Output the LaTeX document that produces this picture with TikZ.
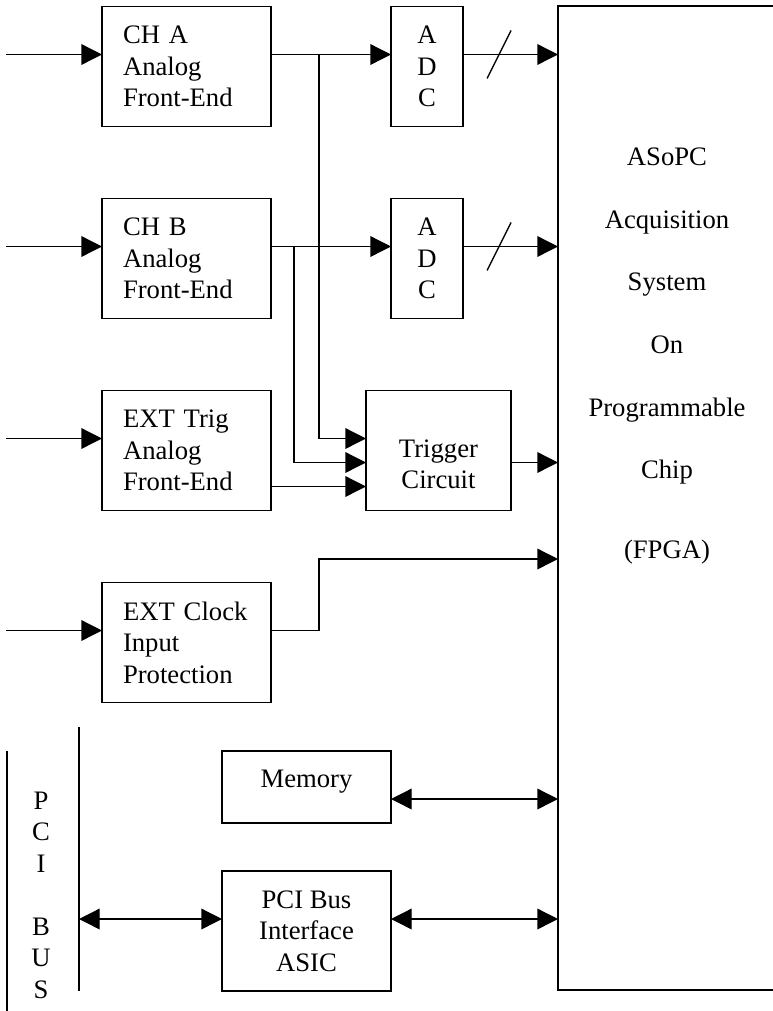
\documentclass[tikz,border=0pt]{standalone}
\usepackage{fontspec}
\setmainfont{Liberation Serif}
\usetikzlibrary{calc}
\usetikzlibrary{positioning}
\usetikzlibrary{arrows.meta}
\tikzset{feblock/.style={draw,
                        line width=1pt,
                        outer sep=0pt,
                        minimum width=126.75pt,
                        minimum height=90pt,
                        text width=95.25pt,
                        inner xsep=15.75pt,
                        align=left,
                        font=\fontsize{20}{23.6}\selectfont
                        },
        cblock/.style={draw,
                        line width=1pt,
                        outer sep=0pt,
                        minimum height=90pt,
                        align=center,
                        font=\fontsize{20}{23.6}\selectfont
        },
        signal/.style={line width=1pt, -{Triangle[length=15.5pt,width=15.5pt]}},
        bisignal/.style={line width=1pt, {Triangle[length=15.5pt,width=15.5pt]}-{Triangle[length=15.5pt,width=15.5pt]}},
        plain/.style={line width=1pt},
}

\begin{document}
\begin{tikzpicture}
    [x=0.75pt,y=-0.75pt]
    \useasboundingbox (0,0) rectangle (772,1011);

    % FRONT ENDS
    \node[feblock] (chA) at (186.5,66.5) {CH A\\Analog\\Front-End};
    \node[feblock, below=54pt of chA] (chB) {CH B\\Analog\\Front-End};
    \node[feblock, below=54pt of chB] (extTrig) {EXT Trig\\Analog\\Front-End};
    \node[feblock, below=54pt of extTrig] (extClk) {EXT Clock\\Input\\Protection};

    % CONVERTERS AND TRIGGER
    \node[cblock, minimum width=54pt, right=90pt of chA] (adcA) {A\\D\\C};
    \node[cblock, minimum width=54pt, right=90pt of chB] (adcB) {A\\D\\C};
    \node[cblock, minimum width=108.75pt, text height=57pt, text depth=0pt, right=71.25pt of extTrig] (trig) {Trigger\\Circuit};

    % FPGA
    \node[draw, plain, outer sep=0pt, minimum width=163.5pt, minimum height=738pt] (asopc) at (667,498) {};
    \node[anchor=north, inner sep=0pt, align=center, font=\fontsize{20}{46.9}\selectfont] (asopcText) at (667,148)
        {ASoPC\\Acquisition\\System\\On\\Programmable\\Chip\\[13pt](FPGA)};

    % MEMORY AND PCI
    \node[cblock, minimum width=126.75pt, minimum height=54pt, text depth=12pt] (mem) at (306.5,787) {Memory};
    \node[cblock, minimum width=126.75pt, below=36pt of mem] (pci) {PCI Bus\\Interface\\ASIC};
    \node[align=center, font=\fontsize{20}{23.6}\selectfont] (busLabel) at (41,895) {P\\C\\I\\[23.6pt]B\\U\\S};

    \coordinate (edge) at (6,0);
    \coordinate (colA) at (319,0);
    \coordinate (colB) at (294,0);
    \coordinate (clkRow) at (0,559);
    \coordinate (busTop) at (79,727);
    \coordinate (busBot) at (79,991);
    \coordinate (rackTop) at (7,751);
    \coordinate (rackBot) at (7,1015);

    % INPUTS
    \draw[signal] ([yshift=9pt]chA.west -| edge) -- ([yshift=9pt]chA.west);
    \draw[signal] ([yshift=9pt]chB.west -| edge) -- ([yshift=9pt]chB.west);
    \draw[signal] ([yshift=9pt]extTrig.west -| edge) -- ([yshift=9pt]extTrig.west);
    \draw[signal] ([yshift=9pt]extClk.west -| edge) -- ([yshift=9pt]extClk.west);

    % CONNECTIONS
    \draw[signal] ([yshift=9pt]chA.east) -- ([yshift=9pt]adcA.west);
    \draw[signal] ([yshift=9pt]chB.east) -- ([yshift=9pt]adcB.west);
    \draw[signal] ([yshift=9pt]chA.east -| colA) |- ([yshift=9pt]trig.west);
    \draw[signal] ([yshift=9pt]chB.east -| colB) |- ([yshift=-9pt]trig.west);
    \draw[signal] ([yshift=-27pt]extTrig.east) -- ([yshift=-27pt]trig.west);
    \draw[signal] ([yshift=-9pt]trig.east) -- ([yshift=-9pt]trig.east -| asopc.west);
    \draw[signal] ([yshift=9pt]extClk.east) -| (colA |- clkRow) -- (clkRow -| asopc.west);

    \draw[signal] ([yshift=9pt]adcA.east) -- coordinate[pos=0.38] (busA) ([yshift=9pt]adcA.east -| asopc.west);
    \draw[plain] ($(busA)+(-12,24)$) -- ($(busA)+(12,-24)$);
    \draw[signal] ([yshift=9pt]adcB.east) -- coordinate[pos=0.38] (busB) ([yshift=9pt]adcB.east -| asopc.west);
    \draw[plain] ($(busB)+(-12,24)$) -- ($(busB)+(12,-24)$);

    \draw[bisignal] ([yshift=-9pt]mem.east) -- ([yshift=-9pt]mem.east -| asopc.west);
    \draw[bisignal] ([yshift=9pt]pci.east) -- ([yshift=9pt]pci.east -| asopc.west);
    \draw[bisignal] ([yshift=9pt]pci.west -| busTop) -- ([yshift=9pt]pci.west);

    % PCI BUS
    \draw[plain] (busTop) -- (busBot);
    \draw[plain] (rackTop) -- (rackBot);

\end{tikzpicture}
\end{document}
